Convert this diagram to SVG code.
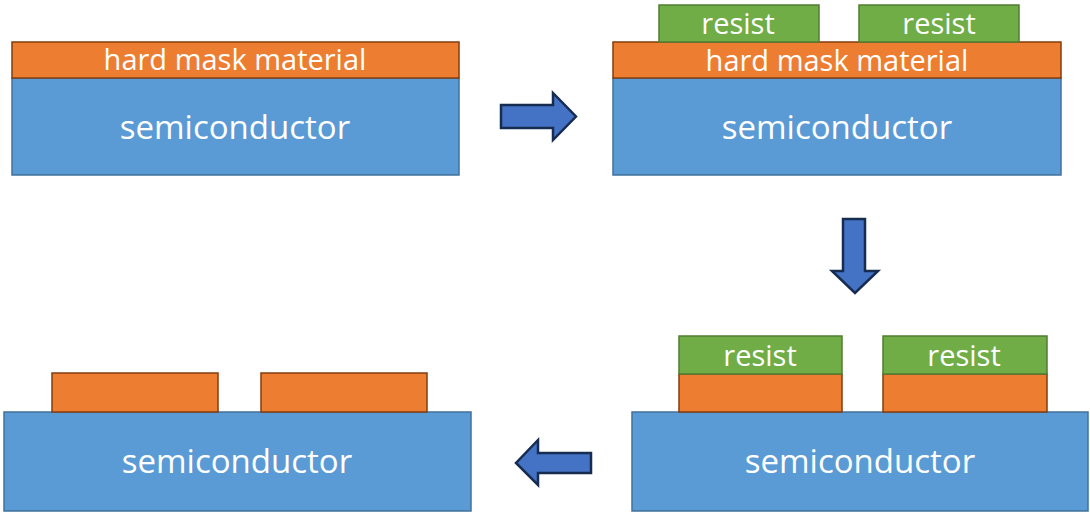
<svg xmlns="http://www.w3.org/2000/svg" width="1090" height="512" viewBox="0 0 1090 512">
<style>
.semi{fill:#5B9BD5;stroke:#41719C;stroke-width:1.5}
.mask{fill:#ED7D31;stroke:#843C0C;stroke-width:1.5}
.res{fill:#70AD47;stroke:#507E32;stroke-width:1.5}
.arr{fill:#4472C4;stroke:#172C51;stroke-width:2.5;stroke-linejoin:miter}
text{font-family:"Open Sans","DejaVu Sans",sans-serif;fill:#fff;text-anchor:middle}
.t26{font-size:29px}
.t31{font-size:33px}
</style>
<rect width="1090" height="512" fill="#fff"/>
<g id="step1">
<rect class="semi" x="12" y="78" width="447" height="97"/>
<rect class="mask" x="12" y="42" width="447" height="36"/>
<text class="t26" x="235" y="70">hard mask material</text>
<text class="t31" x="235" y="139">semiconductor</text>
</g>
<g id="step2">
<rect class="semi" x="613" y="78" width="448" height="97"/>
<rect class="mask" x="613" y="42" width="448" height="36"/>
<rect class="res" x="659" y="5" width="160" height="37"/>
<rect class="res" x="859" y="5" width="160" height="37"/>
<text class="t26" x="837" y="71">hard mask material</text>
<text class="t26" x="738" y="34">resist</text>
<text class="t26" x="939" y="34">resist</text>
<text class="t31" x="837" y="139">semiconductor</text>
</g>
<g id="step3">
<rect class="semi" x="632" y="412" width="456" height="99"/>
<rect class="mask" x="679" y="374" width="163" height="38"/>
<rect class="mask" x="883" y="374" width="164" height="38"/>
<rect class="res" x="679" y="336" width="163" height="38"/>
<rect class="res" x="883" y="336" width="164" height="38"/>
<text class="t26" x="760" y="366">resist</text>
<text class="t26" x="964" y="366">resist</text>
<text class="t31" x="860" y="473">semiconductor</text>
</g>
<g id="step4">
<rect class="semi" x="4" y="412" width="467" height="99"/>
<rect class="mask" x="52" y="373" width="166" height="39"/>
<rect class="mask" x="261" y="373" width="166" height="39"/>
<text class="t31" x="237" y="473">semiconductor</text>
</g>
<g id="connectors">
<polygon class="arr" points="501,105 553,105 553,93 576,116.5 553,140 553,128 501,128"/>
<polygon class="arr" points="843,219 865,219 865,271 878,271 855,293 832,271 843,271"/>
<polygon class="arr" points="591,453 538,453 538,440 516,463 538,485 538,473 591,473"/>
</g>
</svg>
